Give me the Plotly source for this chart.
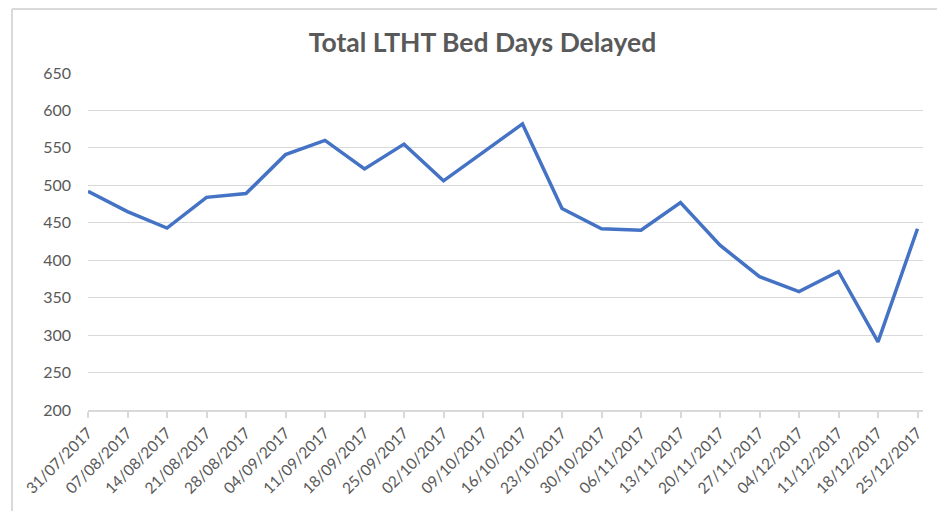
import plotly.graph_objects as go

dates = ["31/07/2017", "07/08/2017", "14/08/2017", "21/08/2017", "28/08/2017",
         "04/09/2017", "11/09/2017", "18/09/2017", "25/09/2017", "02/10/2017",
         "09/10/2017", "16/10/2017", "23/10/2017", "30/10/2017", "06/11/2017",
         "13/11/2017", "20/11/2017", "27/11/2017", "04/12/2017", "11/12/2017",
         "18/12/2017", "25/12/2017"]
bed_days = [492, 465, 443, 484, 489, 541, 560, 522, 555, 506, 544,
            582, 469, 442, 440, 477, 420, 378, 358, 385, 291, 442]

OFF = 8  # default page body margin
W, H = 945 - OFF, 511 - OFF
L, R, T, B = 88 - OFF, 923 - OFF, 73 - OFF, 410 - OFF

fig = go.Figure()
fig.add_trace(go.Scatter(
    x=dates, y=bed_days, mode="lines",
    line=dict(color="#4472C4", width=3.5),
    hoverinfo="x+y",
))

grey_text = "#595959"
grid = "#d9d9d9"

fig.update_layout(
    width=W, height=H,
    margin=dict(l=L, r=W - R, t=T, b=H - B, autoexpand=False),
    paper_bgcolor="white", plot_bgcolor="white",
    showlegend=False,
    title=dict(text="<b>Total LTHT Bed Days Delayed</b>",
               x=(482.5 - OFF) / W, xanchor="center", y=1 - (43 - OFF) / H, yanchor="middle",
               font=dict(family="Lato, Open Sans, sans-serif", size=26.5, color=grey_text)),
    font=dict(family="Lato, Open Sans, sans-serif", color=grey_text),
)

n = len(dates)
fig.update_xaxes(
    type="category", range=[0, (n - 1) + (R - L - (n - 1) * 39.5) / 39.5],
    tickangle=-45, tickfont=dict(size=15.5, color=grey_text),
    showline=True, linecolor=grid, linewidth=1.5,
    ticks="outside", ticklen=6, tickcolor=grid, tickwidth=1.5,
    showgrid=False, zeroline=False,
)
fig.update_yaxes(
    range=[200, 650], dtick=50, tick0=200,
    tickfont=dict(size=16, color=grey_text),
    showgrid=True, gridcolor=grid, gridwidth=1,
    showline=False, zeroline=False, ticks="", ticklabelstandoff=16,
)

# chart frame (partially visible, left and top edges)
px_x = lambda p: (p - OFF - L) / (R - L)
px_y = lambda p: (B - (p - OFF)) / (B - T)
fig.add_shape(type="line", xref="paper", yref="paper",
              x0=px_x(12), x1=px_x(12), y0=px_y(9), y1=px_y(530),
              line=dict(color="#d9d9d9", width=2))
fig.add_shape(type="line", xref="paper", yref="paper",
              x0=px_x(12), x1=px_x(960), y0=px_y(9), y1=px_y(9),
              line=dict(color="#d9d9d9", width=2))

fig.write_html("out.html")
